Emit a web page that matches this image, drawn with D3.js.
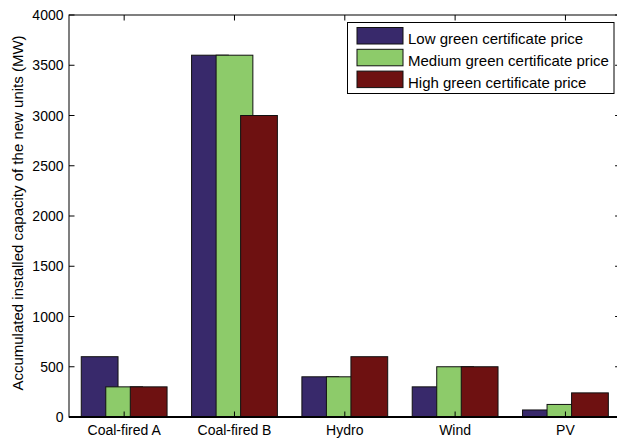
<!DOCTYPE html>
<html>
<head>
<meta charset="utf-8">
<script src="https://cdn.jsdelivr.net/npm/d3@7"></script>
<style>
  html, body { margin: 0; padding: 0; background: #fff; }
  svg { display: block; font-family: Arial, "Liberation Sans", sans-serif; }
</style>
</head>
<body>
<svg id="chart" width="617" height="441"></svg>
<script>
// Unit types (one group of bars each)
const categories = ["Coal-fired A", "Coal-fired B", "Hydro", "Wind", "PV"];
// Certificate-price scenarios
const seriesNames = ["Low green certificate price", "Medium green certificate price", "High green certificate price"];
const seriesColors = ["#38296b", "#8dcb6a", "#6e1111"];
// Accumulated installed capacity (MW) per scenario
const lowPrice = [600, 3600, 400, 300, 70];
const mediumPrice = [300, 3600, 400, 500, 125];
const highPrice = [300, 3000, 600, 500, 240];
const yTicks = [0, 500, 1000, 1500, 2000, 2500, 3000, 3500, 4000];
const yLabel = "Accumulated installed capacity of the new units (MW)";

const series = [lowPrice, mediumPrice, highPrice];

const svg = d3.select("#chart");
const plotLeft = 69, plotRight = 620.6, plotTop = 15, plotBottom = 417;

// Category positions 1..5 on a continuous axis from 0.5 to 5.5
const x = d3.scaleLinear().domain([0.5, 5.5]).range([plotLeft, plotRight]);
const y = d3.scaleLinear().domain([0, 4000]).range([plotBottom, plotTop]);

const step = 2 / 9;        // offset between bars in a group
const barW = 1 / 3;        // bar width (bars overlap slightly)
const tickLen = 5.5;

// Bars: series drawn in order so later ones sit on top
series.forEach((vals, s) => {
  svg.append("g")
    .selectAll("rect")
    .data(vals)
    .join("rect")
    .attr("x", (d, i) => x(i + 1 + (s - 1) * step - barW / 2))
    .attr("width", x(barW) - x(0))
    .attr("y", d => y(d))
    .attr("height", d => y(0) - y(d))
    .attr("fill", seriesColors[s])
    .attr("stroke", "#111")
    .attr("stroke-width", 1);
});

// Axes box
const axisG = svg.append("g").attr("stroke", "#000").attr("fill", "none");
axisG.append("rect")
  .attr("x", plotLeft).attr("y", plotTop)
  .attr("width", plotRight - plotLeft).attr("height", plotBottom - plotTop)
  .attr("stroke-width", 1);
axisG.append("line")
  .attr("x1", plotLeft).attr("x2", plotRight)
  .attr("y1", plotBottom).attr("y2", plotBottom)
  .attr("stroke-width", 2);

// Y ticks (left and right, pointing inward)
yTicks.forEach(t => {
  axisG.append("line").attr("x1", plotLeft).attr("x2", plotLeft + tickLen)
    .attr("y1", y(t)).attr("y2", y(t));
  axisG.append("line").attr("x1", plotRight).attr("x2", plotRight - tickLen)
    .attr("y1", y(t)).attr("y2", y(t));
});
// X ticks (top and bottom, pointing inward)
categories.forEach((c, i) => {
  axisG.append("line").attr("x1", x(i + 1)).attr("x2", x(i + 1))
    .attr("y1", plotTop).attr("y2", plotTop + tickLen);
  axisG.append("line").attr("x1", x(i + 1)).attr("x2", x(i + 1))
    .attr("y1", plotBottom).attr("y2", plotBottom - tickLen);
});

// Tick labels
svg.append("g").selectAll("text").data(yTicks).join("text")
  .attr("x", plotLeft - 5.5).attr("y", d => y(d) + 5)
  .attr("text-anchor", "end").attr("font-size", 14).attr("fill", "#000")
  .text(d => d);

svg.append("g").selectAll("text").data(categories).join("text")
  .attr("x", (d, i) => x(i + 1)).attr("y", plotBottom + 18)
  .attr("text-anchor", "middle").attr("font-size", 14).attr("fill", "#000")
  .text(d => d);

// Y axis title
svg.append("text")
  .attr("transform", "translate(23,213) rotate(-90)")
  .attr("text-anchor", "middle").attr("font-size", 15).attr("fill", "#000")
  .text(yLabel);

// Legend
const lg = svg.append("g");
lg.append("rect")
  .attr("x", 347.5).attr("y", 22.5).attr("width", 266.5).attr("height", 71)
  .attr("fill", "#fff").attr("stroke", "#000");
seriesNames.forEach((name, s) => {
  const yy = 27.5 + s * 21.8;
  lg.append("rect")
    .attr("x", 357).attr("y", yy).attr("width", 46).attr("height", 16.5)
    .attr("fill", seriesColors[s]).attr("stroke", "#111");
  lg.append("text")
    .attr("x", 408).attr("y", yy + 16.5)
    .attr("font-size", 15).attr("fill", "#000")
    .text(name);
});
</script>
</body>
</html>
